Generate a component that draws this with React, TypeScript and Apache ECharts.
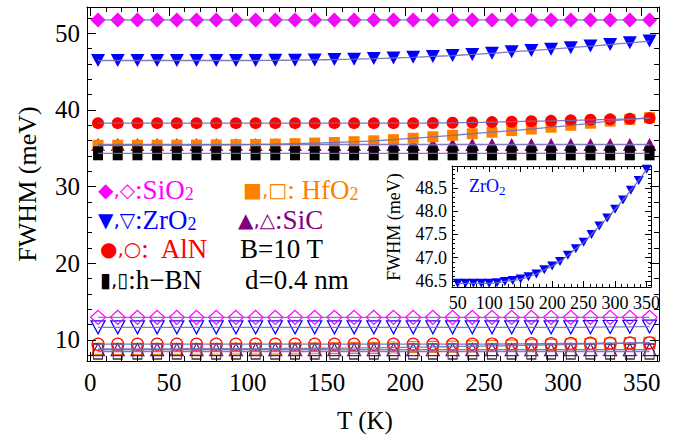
import React, { useEffect, useRef } from 'react';
import * as echarts from 'echarts';

// ---------- data ----------
const temperatures = [5, 17.5, 30, 42.5, 55, 67.5, 80, 92.5, 105, 117.5, 130, 142.5, 155, 167.5, 180, 192.5, 205, 217.5, 230, 242.5, 255, 267.5, 280, 292.5, 305, 317.5, 330, 342.5, 355];

const sio2Filled = [51.75, 51.75, 51.75, 51.75, 51.75, 51.75, 51.75, 51.75, 51.75, 51.75, 51.75, 51.75, 51.75, 51.75, 51.75, 51.75, 51.75, 51.75, 51.75, 51.75, 51.75, 51.75, 51.75, 51.75, 51.75, 51.75, 51.75, 51.75, 51.75];
const zro2Filled = [46.45, 46.45, 46.45, 46.45, 46.45, 46.45, 46.45, 46.45, 46.45, 46.47, 46.5, 46.53, 46.57, 46.63, 46.7, 46.78, 46.87, 46.98, 47.1, 47.24, 47.4, 47.58, 47.75, 47.93, 48.12, 48.33, 48.54, 48.76, 48.98];
const alnFilled = [38.28, 38.28, 38.28, 38.28, 38.28, 38.28, 38.28, 38.28, 38.28, 38.28, 38.28, 38.28, 38.28, 38.28, 38.28, 38.28, 38.28, 38.3, 38.33, 38.37, 38.42, 38.47, 38.53, 38.58, 38.65, 38.72, 38.78, 38.84, 38.92];
const hfo2Filled = [35.4, 35.4, 35.4, 35.41, 35.42, 35.43, 35.45, 35.47, 35.5, 35.55, 35.61, 35.68, 35.76, 35.86, 35.98, 36.13, 36.31, 36.5, 36.7, 36.9, 37.1, 37.3, 37.52, 37.75, 38.0, 38.27, 38.55, 38.78, 39.0];
const sicFilled = [35.5, 35.5, 35.5, 35.5, 35.5, 35.5, 35.5, 35.5, 35.5, 35.5, 35.5, 35.5, 35.5, 35.5, 35.5, 35.5, 35.5, 35.5, 35.5, 35.5, 35.5, 35.5, 35.5, 35.5, 35.5, 35.5, 35.5, 35.5, 35.5];
const hbnFilled = [34.35, 34.35, 34.35, 34.35, 34.35, 34.35, 34.35, 34.35, 34.35, 34.35, 34.35, 34.35, 34.35, 34.35, 34.35, 34.35, 34.35, 34.35, 34.35, 34.35, 34.35, 34.35, 34.35, 34.35, 34.35, 34.35, 34.35, 34.35, 34.35];

const sio2Open = [12.95, 12.95, 12.95, 12.95, 12.95, 12.95, 12.95, 12.95, 12.95, 12.95, 12.95, 12.95, 12.95, 12.95, 12.95, 12.95, 12.95, 12.95, 12.95, 12.95, 12.95, 12.95, 12.95, 12.95, 12.95, 12.95, 12.95, 12.95, 12.95];
const zro2Open = [11.65, 11.65, 11.65, 11.65, 11.65, 11.65, 11.65, 11.65, 11.65, 11.65, 11.65, 11.65, 11.65, 11.65, 11.65, 11.65, 11.65, 11.65, 11.65, 11.65, 11.65, 11.65, 11.65, 11.65, 11.65, 11.67, 11.7, 11.72, 11.75];
const alnOpen = [9.45, 9.45, 9.45, 9.45, 9.45, 9.45, 9.45, 9.45, 9.45, 9.45, 9.45, 9.45, 9.45, 9.45, 9.45, 9.45, 9.45, 9.45, 9.45, 9.45, 9.47, 9.49, 9.51, 9.53, 9.55, 9.57, 9.59, 9.61, 9.63];
const hfo2Open = [8.85, 8.85, 8.85, 8.85, 8.85, 8.86, 8.86, 8.87, 8.87, 8.88, 8.9, 8.92, 8.93, 8.96, 8.98, 9.02, 9.06, 9.1, 9.14, 9.18, 9.22, 9.27, 9.32, 9.37, 9.42, 9.48, 9.54, 9.59, 9.64];
const sicOpen = [8.75, 8.75, 8.75, 8.75, 8.75, 8.75, 8.75, 8.75, 8.75, 8.75, 8.75, 8.75, 8.75, 8.75, 8.75, 8.75, 8.75, 8.75, 8.75, 8.75, 8.75, 8.75, 8.75, 8.75, 8.75, 8.75, 8.75, 8.75, 8.75];
const hbnOpen = [8.5, 8.5, 8.5, 8.5, 8.5, 8.5, 8.5, 8.5, 8.5, 8.5, 8.5, 8.5, 8.5, 8.5, 8.5, 8.5, 8.5, 8.5, 8.5, 8.5, 8.5, 8.5, 8.5, 8.5, 8.5, 8.5, 8.5, 8.5, 8.5];

const insetTemps = [50, 62.5, 75, 87.5, 100, 112.5, 125, 137.5, 150, 162.5, 175, 187.5, 200, 212.5, 225, 237.5, 250, 262.5, 275, 287.5, 300, 312.5, 325, 337.5, 350];
const insetZrO2 = [46.45, 46.45, 46.45, 46.45, 46.45, 46.46, 46.49, 46.51, 46.54, 46.59, 46.65, 46.74, 46.82, 46.92, 47.05, 47.19, 47.33, 47.5, 47.68, 47.85, 48.04, 48.24, 48.45, 48.66, 48.9];

const mainXTicks = [0, 50, 100, 150, 200, 250, 300, 350];
const mainYTicks = [10, 20, 30, 40, 50];
const insetXTicks = [50, 100, 150, 200, 250, 300, 350];
const insetYTicks = [46.5, 47.0, 47.5, 48.0, 48.5];

// ---------- helpers ----------
const SERIF = 'Liberation Serif';
const SYM = 'DejaVu Sans';

const range = (a: number, b: number, step: number) => {
  const out: number[] = [];
  for (let v = a; v <= b + 1e-9; v += step) out.push(Math.round(v * 1000) / 1000);
  return out;
};
const mainXMinor = range(0, 360, 10);
const mainYMinor = range(8, 52, 2);
const insetXMinor = range(50, 350, 10);
const insetYMinor = range(46.4, 48.9, 0.1);

const M_X = [-2, 361];
const M_Y = [7.26, 53.43];
const I_X = [41, 357];
const I_Y = [46.37, 48.97];

function axis(gridIndex: number, position: string, mm: number[], ticks: number[], len: number, line: boolean, label?: any) {
  return {
    type: 'value',
    gridIndex,
    position,
    min: mm[0],
    max: mm[1],
    z: 5,
    axisLine: { show: line, onZero: false, lineStyle: { color: '#000', width: 1 } },
    axisTick: { show: true, inside: true, length: len, customValues: ticks, lineStyle: { color: '#000', width: 1 } },
    axisLabel: label
      ? { show: true, customValues: ticks, color: '#000', fontFamily: SERIF, fontWeight: 'normal', ...label }
      : { show: false },
    splitLine: { show: false },
    axisPointer: { show: false },
  };
}

function scatter(data: number[], xs: number[], symbol: string, size: any, color: string, filled: boolean, xi: number, rotate = 0) {
  return {
    type: 'scatter',
    xAxisIndex: xi,
    yAxisIndex: xi,
    data: xs.map((t, i) => [t, data[i]]),
    symbol,
    symbolSize: size,
    symbolRotate: rotate,
    itemStyle: filled
      ? { color, borderWidth: 0, opacity: 1 }
      : { color: 'rgba(255,255,255,0)', borderColor: color, borderWidth: 1.2, opacity: 1 },
    z: 2,
    silent: true,
  };
}

function fit(data: number[], xs: number[], xi: number) {
  return {
    type: 'line',
    xAxisIndex: xi,
    yAxisIndex: xi,
    data: xs.map((t, i) => [t, data[i]]),
    showSymbol: false,
    symbol: 'none',
    smooth: 0.3,
    lineStyle: { color: '#6e6eb8', width: 1.3, opacity: 0.9 },
    z: 4,
    silent: true,
  };
}

const MAG = '#ff00ff', ORA = '#ff8000', BLU = '#0000ff', PUR = '#800080', RED = '#ff0000', BLK = '#000000';

function legendText(x: number, y: number, sym: string, txt: string, sub: string, color: string) {
  const parts = [];
  if (sym) parts.push(`{s|${sym}}`);
  parts.push(`{t|${txt}}`);
  if (sub) parts.push(`{b|${sub}}`);
  return {
    type: 'text',
    left: x,
    top: y,
    silent: true,
    style: {
      text: parts.join(''),
      fill: color,
      rich: {
        s: { fontFamily: SYM, fontSize: 20, fill: color, lineHeight: 26, verticalAlign: 'middle' },
        t: { fontFamily: SERIF, fontSize: 27, fill: color, lineHeight: 26, verticalAlign: 'middle' },
        b: { fontFamily: SERIF, fontSize: 18, fill: color, lineHeight: 16, verticalAlign: 'bottom' },
      },
    },
  };
}

function plainText(x: number, y: number, text: string, size: number, rotation = 0) {
  return {
    type: 'text', x, y, rotation, silent: true,
    style: {
      text, fill: '#000', fontFamily: SERIF, fontSize: size,
      align: 'center', verticalAlign: 'middle', textAlign: 'center', textVerticalAlign: 'middle',
    },
  };
}

const option: any = {
  animation: false,
  backgroundColor: '#fff',
  textStyle: { fontFamily: SERIF },
  grid: [
    { left: 87, top: 7, width: 572, height: 354, containLabel: false, show: false },
    { left: 452, top: 166, width: 199, height: 121, containLabel: false, show: true, backgroundColor: '#fff', borderWidth: 0 },
  ],
  xAxis: [
    axis(0, 'bottom', M_X, mainXTicks, 9, true, { fontSize: 25, margin: 9 }),
    axis(0, 'bottom', M_X, mainXMinor, 5, false),
    axis(0, 'top', M_X, mainXTicks, 9, true),
    axis(0, 'top', M_X, mainXMinor, 5, false),
    axis(1, 'bottom', I_X, insetXTicks, 6, true, { fontSize: 18, margin: 7 }),
    axis(1, 'bottom', I_X, insetXMinor, 3, false),
    axis(1, 'top', I_X, insetXTicks, 6, true),
    axis(1, 'top', I_X, insetXMinor, 3, false),
  ],
  yAxis: [
    axis(0, 'left', M_Y, mainYTicks, 9, true, { fontSize: 25, margin: 7 }),
    axis(0, 'left', M_Y, mainYMinor, 5, false),
    axis(0, 'right', M_Y, mainYTicks, 9, true),
    axis(0, 'right', M_Y, mainYMinor, 5, false),
    axis(1, 'left', I_Y, insetYTicks, 6, true, { fontSize: 18, margin: 5, formatter: (v: number) => v.toFixed(1) }),
    axis(1, 'left', I_Y, insetYMinor, 3, false),
    axis(1, 'right', I_Y, insetYTicks, 6, true),
    axis(1, 'right', I_Y, insetYMinor, 3, false),
  ],
  series: [
    // filled (upper group)
    scatter(sicFilled, temperatures, 'triangle', [14, 13], PUR, true, 0),
    scatter(hfo2Filled, temperatures, 'rect', 11, ORA, true, 0),
    scatter(hbnFilled, temperatures, 'rect', [10, 14], BLK, true, 0),
    scatter(alnFilled, temperatures, 'circle', 12, RED, true, 0),
    scatter(zro2Filled, temperatures, 'triangle', [14, 13], BLU, true, 0, 180),
    scatter(sio2Filled, temperatures, 'diamond', [15, 15], MAG, true, 0),
    // open (lower group)
    scatter(hfo2Open, temperatures, 'rect', 11, ORA, false, 0),
    scatter(hbnOpen, temperatures, 'rect', [9, 15], '#333333', false, 0),
    scatter(sicOpen, temperatures, 'triangle', [13, 12], PUR, false, 0),
    scatter(alnOpen, temperatures, 'circle', 12, RED, false, 0),
    scatter(zro2Open, temperatures, 'triangle', [14, 13], BLU, false, 0, 180),
    scatter(sio2Open, temperatures, 'diamond', [15, 14], MAG, false, 0),
    // fit lines
    fit(sio2Filled, temperatures, 0),
    fit(zro2Filled, temperatures, 0),
    fit(alnFilled, temperatures, 0),
    fit(hfo2Filled, temperatures, 0),
    fit(sicFilled, temperatures, 0),
    fit(hbnFilled, temperatures, 0),
    fit(sio2Open, temperatures, 0),
    fit(zro2Open, temperatures, 0),
    fit(alnOpen, temperatures, 0),
    fit(hfo2Open, temperatures, 0),
    fit(sicOpen, temperatures, 0),
    fit(hbnOpen, temperatures, 0),
    // inset
    { ...scatter(insetZrO2, insetTemps, 'triangle', [10, 9], BLU, true, 4, 180), z: 6, clip: true },
    { ...fit(insetZrO2, insetTemps, 4), z: 7, clip: true },
  ],
  graphic: [
    legendText(98, 176, '◆,◇', ':SiO', '2', MAG),
    legendText(243, 176, '■,□', ': HfO', '2', ORA),
    legendText(98, 206, '▼,▽', ':ZrO', '2', BLU),
    legendText(238, 206, '▲,△', ':SiC', '', PUR),
    legendText(100, 235, '●,○', ':  AlN', '', RED),
    legendText(240, 235, '', 'B=10 T', '', BLK),
    legendText(100, 266, '▮,▯', ':h−BN', '', BLK),
    legendText(245, 266, '', 'd=0.4 nm', '', BLK),
    {
      type: 'text', left: 469, top: 177, silent: true, z: 10,
      style: {
        text: '{t|ZrO}{b|2}',
        fill: BLU,
        rich: {
          t: { fontFamily: SERIF, fontSize: 18, fill: BLU, lineHeight: 22, verticalAlign: 'middle' },
          b: { fontFamily: SERIF, fontSize: 13, fill: BLU, lineHeight: 13, verticalAlign: 'bottom' },
        },
      },
    },
    plainText(27, 184, 'FWHM (meV)', 26, Math.PI / 2),
    plainText(365, 420, 'T (K)', 25),
    plainText(394, 227, 'FWHM (meV)', 18, Math.PI / 2),
  ],
};

export default function App() {
  const ref = useRef<HTMLDivElement>(null);
  useEffect(() => {
    if (!ref.current) return;
    const chart = echarts.init(ref.current, null, { renderer: 'svg' });
    chart.setOption(option);
    return () => chart.dispose();
  }, []);
  return (
    <div
      ref={ref}
      style={{ position: 'fixed', left: 0, top: 0, width: 677, height: 442, background: '#fff' }}
    />
  );
}
